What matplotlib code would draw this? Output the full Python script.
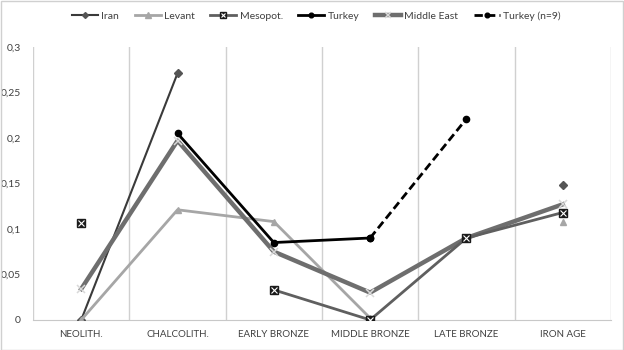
import matplotlib
matplotlib.use("Agg")
import matplotlib.pyplot as plt
import numpy as np
from matplotlib.legend_handler import HandlerTuple

plt.rcParams['font.family'] = ['Lato', 'DejaVu Sans']

categories = ["NEOLITH.", "CHALCOLITH.", "EARLY BRONZE", "MIDDLE BRONZE", "LATE BRONZE", "IRON AGE"]
nan = np.nan
iran = [0.0, 0.271, nan, nan, nan, 0.148]
levant = [0.0, 0.121, 0.108, 0.002, nan, 0.108]
mesopot = [0.106, nan, 0.033, 0.0, 0.090, 0.118]
turkey = [nan, 0.205, 0.085, 0.090, nan, nan]
middle_east = [0.034, 0.197, 0.075, 0.030, 0.090, 0.127]
turkey_n9 = [nan, nan, nan, 0.090, 0.221, nan]
yticks = [0, 0.05, 0.1, 0.15, 0.2, 0.25, 0.3]
ytick_labels = ["0", "0,05", "0,1", "0,15", "0,2", "0,25", "0,3"]

fig = plt.figure(figsize=(6.24, 3.5), dpi=100)
ax = fig.add_axes([0.053, 0.086, 0.926, 0.78])
x = np.arange(len(categories))

l_iran, = ax.plot(x, iran, color='#3a3a3a', lw=1.5, marker='D', ms=4, mfc='#555555', mec='#555555', label='Iran', zorder=3)
l_lev, = ax.plot(x, levant, color='#a6a6a6', lw=2, marker='^', ms=5, mfc='#a6a6a6', mec='#a6a6a6', label='Levant', zorder=3)
l_mes, = ax.plot(x, mesopot, color='#5f5f5f', lw=2, marker='s', ms=6, mfc='#1a1a1a', mec='#1a1a1a', label='Mesopot.', zorder=4)
x_mes, = ax.plot(x, mesopot, color='#5f5f5f', lw=0, ls='none', marker='x', ms=4.5, mec='white', mew=0.8, zorder=5)
l_tur, = ax.plot(x, turkey, color='black', lw=2, marker='o', ms=4.5, mfc='black', label='Turkey', zorder=4)
l_me, = ax.plot(x, middle_east, color='#6e6e6e', lw=3.2, marker='x', ms=5.5, mec='#d9d9d9', mew=1.1, label='Middle East', zorder=3)
l_t9, = ax.plot(x, turkey_n9, color='black', lw=2, ls=(0, (3, 1.5)), marker='o', ms=4.5, mfc='black', label='Turkey (n=9)', zorder=4)

ax.set_xlim(-0.5, len(categories) - 0.5)
ax.set_ylim(0, 0.3)
ax.set_yticks(yticks)
ax.set_yticklabels(ytick_labels, fontsize=7.5, color='#404040')
ax.set_xticks(x)
ax.set_xticklabels(categories, fontsize=7, color='#404040')
ax.tick_params(length=0, pad=7)
ax.tick_params(axis='y', pad=9)
for b in np.arange(-0.5, len(categories), 1.0):
    ax.axvline(b, color='#d0d0d0', lw=1, zorder=1)
for s in ['top', 'right', 'left']:
    ax.spines[s].set_visible(False)
ax.spines['bottom'].set_color('#c8c8c8')

handles = [l_iran, l_lev, (l_mes, x_mes), l_tur, l_me, l_t9]
labels = ['Iran', 'Levant', 'Mesopot.', 'Turkey', 'Middle East', 'Turkey (n=9)']
fig.legend(handles, labels, loc='center', bbox_to_anchor=(0.507, 0.954), ncol=6, frameon=False,
           fontsize=7.5, handlelength=2.5, columnspacing=1.5, handletextpad=0.3, markerscale=0.75,
           handler_map={tuple: HandlerTuple(ndivide=1, pad=0)}, labelcolor='#404040')

fig.patches.append(plt.Rectangle((0.001, 0.001), 0.997, 0.997, transform=fig.transFigure,
                                 fill=False, ec='#d0d0d0', lw=1))
fig.savefig('out.png', dpi=100)
